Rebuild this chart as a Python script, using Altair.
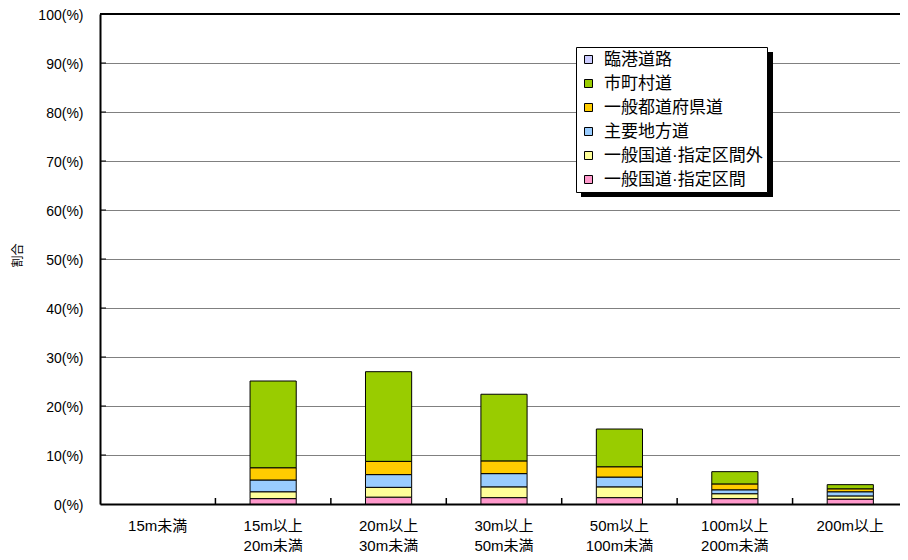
import altair as alt
import pandas as pd

categories = ["15m未満", "15m以上\n20m未満", "20m以上\n30m未満", "30m以上\n50m未満",
              "50m以上\n100m未満", "100m以上\n200m未満", "200m以上"]
series = ["臨港道路", "市町村道", "一般都道府県道", "主要地方道", "一般国道·指定区間外", "一般国道·指定区間"]
colors = ["#CCCCFF", "#99CC00", "#FFCC00", "#99CCFF", "#FFFF99", "#FF99CC"]

v_shitei = [0, 1.1, 1.4, 1.3, 1.3, 1.1, 1.0]
v_shiteigai = [0, 1.4, 2.0, 2.2, 2.2, 1.0, 0.65]
v_shuyo = [0, 2.4, 2.6, 2.7, 2.0, 0.8, 0.85]
v_todofuken = [0, 2.5, 2.7, 2.6, 2.1, 1.2, 0.6]
v_shichoson = [0, 17.7, 18.3, 13.6, 7.7, 2.5, 0.85]
v_rinko = [0, 0, 0, 0, 0, 0, 0]

yticks = [10, 20, 30, 40, 50, 60, 70, 80, 90, 100]

values_by_series = {
    "一般国道·指定区間": v_shitei,
    "一般国道·指定区間外": v_shiteigai,
    "主要地方道": v_shuyo,
    "一般都道府県道": v_todofuken,
    "市町村道": v_shichoson,
    "臨港道路": v_rinko,
}
stack_order = ["一般国道·指定区間", "一般国道·指定区間外", "主要地方道", "一般都道府県道", "市町村道", "臨港道路"]

rows = []
for s in stack_order:
    for c, v in zip(categories, values_by_series[s]):
        if v > 0:
            rows.append({"cat": c, "series": s, "value": v, "ord": stack_order.index(s)})
df = pd.DataFrame(rows)

FONT = "Liberation Sans, Noto Sans CJK JP"
W, H = 800, 490
XR = 808
STEP = XR / len(categories)

xscale = alt.Scale(domain=categories, paddingInner=0.6, paddingOuter=0.3, range=[0, XR])
yscale = alt.Scale(domain=[0, 100])

bars = alt.Chart(df).mark_bar(stroke="black", strokeWidth=1).encode(
    x=alt.X("cat:N", scale=xscale, sort=categories,
            axis=alt.Axis(title=None, labelAngle=0, ticks=False, labelFontSize=15,
                          labelColor="black", labelFont=FONT, labelPadding=14,
                          labelLineHeight=20, domainColor="black", domainWidth=2,
                          labelExpr="split(datum.label, '\\n')")),
    y=alt.Y("value:Q", scale=yscale, stack="zero",
            axis=alt.Axis(title="割合", values=yticks + [0], ticks=False,
                          labelExpr="datum.value + '(%)'", labelFontSize=14,
                          labelColor="black", labelFont=FONT, labelPadding=17,
                          labelOffset=1.5,
                          gridColor="#808080", gridWidth=1, domainColor="black",
                          domainWidth=2, titleFont=FONT, titleFontSize=12,
                          titleFontWeight="normal", titleColor="black",
                          titleX=-83, titleY=241, titleBaseline="middle")),
    color=alt.Color("series:N", scale=alt.Scale(domain=series, range=colors),
                    legend=alt.Legend(title=None, orient="none", legendX=476, legendY=33,
                                      symbolType="square", symbolSize=64,
                                      symbolStrokeColor="black", symbolStrokeWidth=1,
                                      labelFontSize=17, labelFont=FONT, labelColor="black",
                                      rowPadding=6, labelOffset=7, padding=4,
                                      strokeColor="black", fillColor="white",
                                      labelLimit=300)),
    order=alt.Order("ord:Q", sort="ascending"),
)

tick_df = pd.DataFrame({"cat": categories[1:]})
xticks = alt.Chart(tick_df).mark_rule(color="black", strokeWidth=1.5, xOffset=-STEP / 2).encode(
    x=alt.X("cat:N", scale=xscale, sort=categories),
    y=alt.value(H - 6), y2=alt.value(H),
)

ytick_df = pd.DataFrame({"v": yticks})
yticks_rule = alt.Chart(ytick_df).mark_rule(color="black", strokeWidth=1).encode(
    y=alt.Y("v:Q", scale=yscale), x=alt.value(0), x2=alt.value(6),
)

top_border = alt.Chart(pd.DataFrame({"a": [0]})).mark_rule(color="black", strokeWidth=2).encode(
    y=alt.value(0), x=alt.value(0), x2=alt.value(XR),
)

shadow = alt.Chart(pd.DataFrame({"a": [0]})).mark_rect(color="black").encode(
    x=alt.value(481), x2=alt.value(673), y=alt.value(38), y2=alt.value(183),
)

chart = alt.layer(bars, xticks, yticks_rule, top_border, shadow).properties(
    width=W, height=H,
    autosize=alt.AutoSizeParams(type="none"),
    padding={"left": 92, "top": 6, "right": 0, "bottom": 48},
).configure(font=FONT).configure_view(stroke=None)

chart.save("out.html", embed_options={"renderer": "svg", "actions": False})
